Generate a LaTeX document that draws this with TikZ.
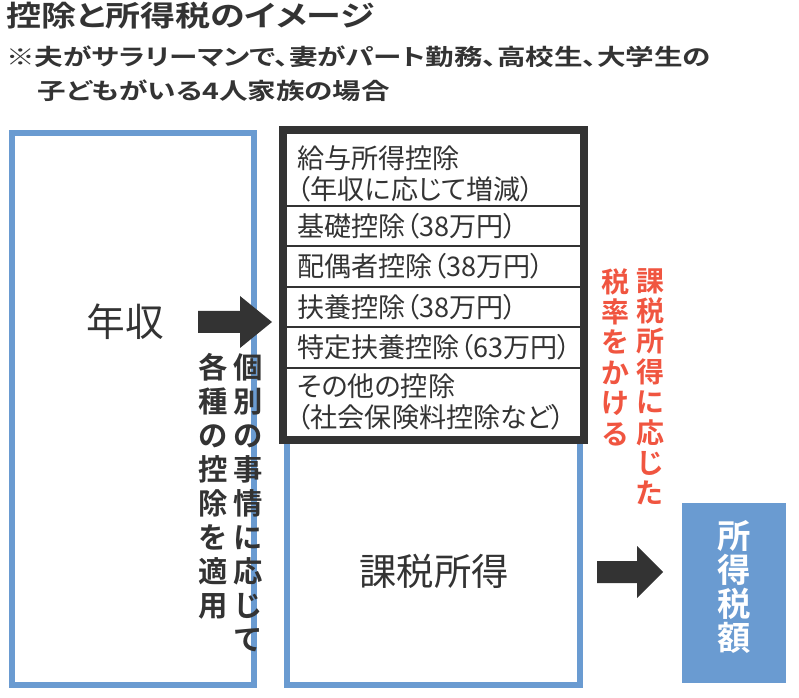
\documentclass[tikz,border=0pt]{standalone}
\usepackage{fontspec}
\setmainfont{Noto Sans CJK JP}[BoldFont={Noto Sans CJK JP Bold},RawFeature=+palt]
\definecolor{bl}{HTML}{6A9BD1}
\definecolor{rd}{HTML}{F05540}
\definecolor{dk}{HTML}{333333}
\begin{document}
\begin{tikzpicture}[x=0.75pt,y=-0.75pt,
  rowtxt/.style={anchor=west,font=\fontsize{20.3}{23.5}\selectfont,align=left,inner sep=0pt,text=dk},
  vcol/.style={align=center,anchor=north,inner sep=0pt},
  bigarrow/.style={fill=dk}]
\useasboundingbox (0,0) rectangle (799,698);
\node[anchor=north west,inner sep=0pt,font=\bfseries\fontsize{21.5}{24}\selectfont,text=dk] (title) at (6,2) {\scalebox{1.22}[1]{控除と所得税のイメージ}};
\node[anchor=north west,inner sep=0pt,font=\bfseries\fontsize{17}{25}\selectfont,text=dk,align=left] (sub) at (6,46) {\scalebox{1.26}[1]{※夫がサラリーマンで、妻がパート勤務、高校生、大学生の}\\\scalebox{1.26}[1]{\hspace{1.1em}子どもがいる4人家族の場合}};
% left box
\draw[bl,line width=4pt] (12,133) rectangle (254,685);
\node[font=\fontsize{29}{32}\selectfont,text=dk] (nen) at (125,322) {年収};
% right box
\draw[bl,line width=4pt] (287,133) rectangle (580,685);
\node[font=\fontsize{28}{32}\selectfont,text=dk] (kazei) at (434,571) {課税所得};
% black box
\fill[white] (280,127) rectangle (587,443);
\draw[dk,line width=6pt] (283,130) rectangle (584,440);
\foreach \yy in {206,246,287,327,368} \draw[dk,line width=1.2pt] (287,\yy) -- (580,\yy);
\node[rowtxt] (r1) at (297,174) {給与所得控除\\（年収に応じて増減）};
\node[rowtxt] (r2) at (297,226) {基礎控除（38万円）};
\node[rowtxt] (r3) at (297,266) {配偶者控除（38万円）};
\node[rowtxt] (r4) at (297,307) {扶養控除（38万円）};
\node[rowtxt] (r5) at (297,347) {特定扶養控除（63万円）};
\node[rowtxt] (r6) at (297,402) {その他の控除\\（社会保険料控除など）};
% arrows
\fill[bigarrow] (198,311) -- (240,311) -- (240,296) -- (272,322) -- (240,348) -- (240,333) -- (198,333) -- cycle;
\fill[bigarrow] (597,561) -- (637,561) -- (637,546) -- (663,572) -- (637,598) -- (637,583) -- (597,583) -- cycle;
% vertical black text
\node[vcol,font=\bfseries\fontsize{22}{25.5}\selectfont,text=dk] (v1) at (248,353) {個\\別\\の\\事\\情\\に\\応\\じ\\て};
\node[vcol,font=\bfseries\fontsize{22}{25.5}\selectfont,text=dk] (v2) at (213,353) {各\\種\\の\\控\\除\\を\\適\\用};
% red text
\node[vcol,font=\bfseries\fontsize{21}{22.8}\selectfont,text=rd] (t1) at (650,268) {課\\税\\所\\得\\に\\応\\じ\\た};
\node[vcol,font=\bfseries\fontsize{21}{22.8}\selectfont,text=rd] (t2) at (615,268) {税\\率\\を\\か\\け\\る};
% result box
\fill[bl] (682,503) rectangle (786,683);
\node[vcol,font=\bfseries\fontsize{25}{25.5}\selectfont,text=white] (zei) at (734,520) {所\\得\\税\\額};
\end{tikzpicture}
\end{document}
